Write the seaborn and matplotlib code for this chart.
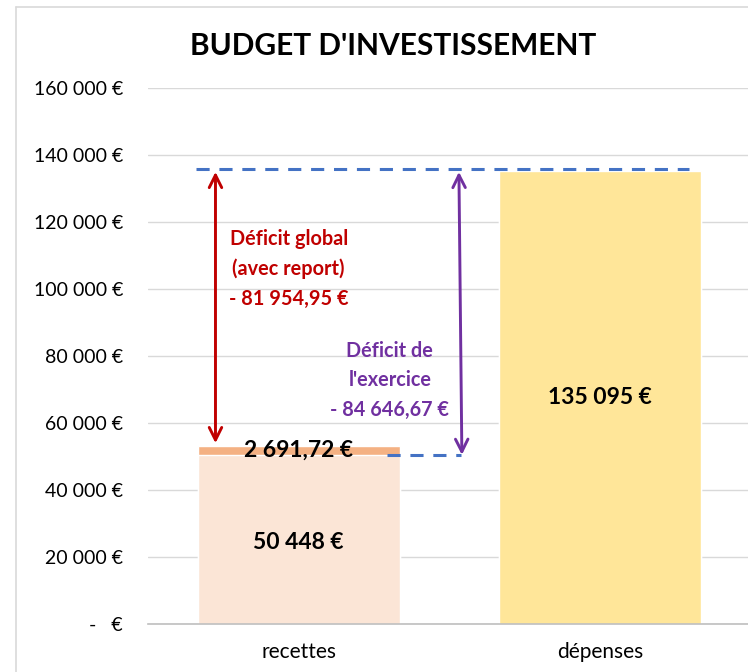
import numpy as np
import pandas as pd
import matplotlib.pyplot as plt
import seaborn as sns

# --- données ---
categories = ['recettes', 'dépenses']
recettes_base = 50448
recettes_report = 2691.72
depenses = 135095
bar_labels = ['50 448 €', '2 691,72 €', '135 095 €']
deficit_global_txt = 'Déficit global\n(avec report)\n- 81 954,95 €'
deficit_exercice_txt = 'Déficit de\nl\'exercice\n- 84 646,67 €'
y_ticks = [0, 20000, 40000, 60000, 80000, 100000, 120000, 140000, 160000]
y_tick_labels = ['-   €', '20 000 €', '40 000 €', '60 000 €', '80 000 €',
                 '100 000 €', '120 000 €', '140 000 €', '160 000 €']

C_BASE = '#FBE5D6'
C_REPORT = '#F4B183'
C_DEP = '#FFE699'
C_DASH = '#4472C4'
C_RED = '#C00000'
C_PURPLE = '#7030A0'

sns.set_style('white')
plt.rcParams['font.family'] = ['Lato', 'DejaVu Sans']

recettes_total = recettes_base + recettes_report
df_top = pd.DataFrame({'cat': categories, 'val': [recettes_total, depenses]})
df_bottom = pd.DataFrame({'cat': categories, 'val': [recettes_base, depenses]})

fig = plt.figure(figsize=(7.48, 6.72), dpi=100)
ax = fig.add_axes([148 / 748, 48 / 672, 602.5 / 748, 536 / 672])

# couche supérieure (report) puis base
sns.barplot(data=df_top, x='cat', y='val', hue='cat', order=categories,
            palette={'recettes': C_REPORT, 'dépenses': C_DEP}, width=0.67,
            legend=False, ax=ax, saturation=1, zorder=2)
sns.barplot(data=df_bottom, x='cat', y='val', hue='cat', order=categories,
            palette={'recettes': C_BASE, 'dépenses': C_DEP}, width=0.67,
            legend=False, ax=ax, saturation=1, zorder=2)

ax.set_xlim(-0.5, 1.5)
ax.set_ylim(0, 160000)
ax.set_yticks(y_ticks)
ax.set_yticklabels(y_tick_labels)
ax.set_xlabel('')
ax.set_ylabel('')
ax.tick_params(axis='y', length=0, pad=18, labelsize=14, labelcolor='black')
ax.tick_params(axis='x', length=0, pad=13, labelsize=15, labelcolor='black')
ax.yaxis.grid(True, color='#D9D9D9', lw=1)
ax.set_axisbelow(True)
for s in ['top', 'right', 'left']:
    ax.spines[s].set_visible(False)
ax.spines['bottom'].set_color('#BFBFBF')
ax.spines['bottom'].set_linewidth(1.2)

# étiquettes des barres
lab_kw = dict(ha='center', va='center', fontsize=16.5, fontweight='bold', color='black', zorder=5)
ax.text(0, recettes_base / 2 - 800, bar_labels[0], **lab_kw)
ax.text(0, recettes_base + recettes_report / 2, bar_labels[1], **lab_kw)
ax.text(1, depenses / 2, bar_labels[2], **lab_kw)

# lignes pointillées
dash_kw = dict(color=C_DASH, lw=2.2, dashes=(4.3, 3.2), zorder=4, solid_capstyle='butt')
ax.plot([-0.342, 1.296], [depenses + 700, depenses + 700], **dash_kw)
ax.plot([0.292, 0.54], [recettes_base, recettes_base], **dash_kw)

# flèches
arrow_style = '<->,head_length=0.9,head_width=0.45'
ax.annotate('', xy=(-0.276, recettes_total), xytext=(-0.276, depenses + 700),
            arrowprops=dict(arrowstyle=arrow_style, color=C_RED, lw=2.1), zorder=6)
ax.annotate('', xy=(0.542, recettes_base - 800), xytext=(0.532, depenses + 700),
            arrowprops=dict(arrowstyle=arrow_style, color=C_PURPLE, lw=2.1), zorder=6)

ax.text(-0.033, 106000, deficit_global_txt, ha='center', va='center', color=C_RED,
        fontsize=14.3, fontweight='bold', linespacing=1.6)
ax.text(0.303, 72800, deficit_exercice_txt, ha='center', va='center', color=C_PURPLE,
        fontsize=14.3, fontweight='bold', linespacing=1.6)

# titre
fig.text(393 / 748, 1 - 46 / 672, "BUDGET D'INVESTISSEMENT", ha='center', va='center',
         fontsize=21.5, fontweight='bold', color='black')

# cadre du graphique
fig.add_artist(plt.Line2D([16 / 748, 16 / 748], [0, 1 - 7 / 672], transform=fig.transFigure,
                          color='#D9D9D9', lw=1.2))
fig.add_artist(plt.Line2D([16 / 748, 1], [1 - 7 / 672, 1 - 7 / 672], transform=fig.transFigure,
                          color='#D9D9D9', lw=1.2))

fig.savefig('out.png', dpi=100)
